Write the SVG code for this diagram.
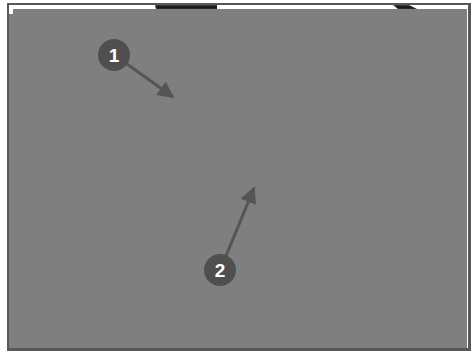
<svg xmlns="http://www.w3.org/2000/svg" width="476" height="351" viewBox="0 0 476 351">
<style>
.badge{fill:#4f4f4f}
.num{fill:#fff;font-family:"Liberation Sans",Arial,sans-serif;font-weight:bold;font-size:19px;text-anchor:middle}
.conn{stroke:#555;stroke-width:3;fill:none}
</style>
<defs>
<marker id="ah" viewBox="0 0 10 10" refX="9" refY="5" markerWidth="6" markerHeight="5.5" markerUnits="strokeWidth" orient="auto">
<path d="M0,0 L10,5 L0,10 z" fill="#555"/>
</marker>
<linearGradient id="dk" x1="0" y1="0" x2="0" y2="1">
<stop offset="0" stop-color="#444"/><stop offset="0.5" stop-color="#111"/><stop offset="1" stop-color="#333"/>
</linearGradient>
</defs>
<rect x="0" y="0" width="476" height="351" fill="#fff"/>
<g id="frame">
<rect x="7" y="3" width="464" height="348" fill="#585858"/>
<rect x="9" y="5" width="459" height="343" fill="#fff"/>
<rect x="9" y="9" width="458" height="339" fill="#7f7f7f"/>
<rect x="9" y="9" width="4" height="5" fill="#fff"/>
<path d="M155,5 H217 V9 H156 Z" fill="url(#dk)"/>
<path d="M393,5 H409 L417,9 H398 Z" fill="url(#dk)"/>
</g>
<g id="connectors">
<line class="conn" x1="127" y1="64" x2="173" y2="97" marker-end="url(#ah)"/>
<line class="conn" x1="226" y1="256" x2="254" y2="188" marker-end="url(#ah)"/>
</g>
<g id="node1">
<circle class="badge" cx="114" cy="55" r="16"/>
<text class="num" x="114" y="62">1</text>
</g>
<g id="node2">
<circle class="badge" cx="220" cy="270" r="16"/>
<text class="num" x="220" y="277">2</text>
</g>
</svg>
